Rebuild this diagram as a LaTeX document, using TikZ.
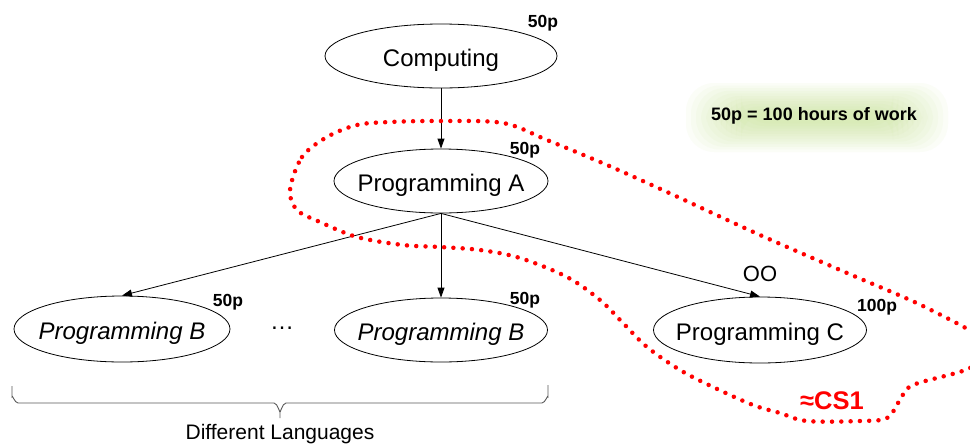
\documentclass[tikz,border=0pt]{standalone}
\usepackage{fontspec}
\setmainfont{Liberation Sans}
\usetikzlibrary{shapes.geometric,arrows.meta}
\definecolor{glowc}{RGB}{185,222,120}
\definecolor{bracec}{RGB}{90,90,90}
\newcommand{\ovaltext}[1]{\makebox[0pt]{\raisebox{-10pt}[0pt][0pt]{#1}}}
\begin{document}
\begin{tikzpicture}[x=1pt,y=-1pt,
  oval/.style={draw=black,line width=0.8pt,ellipse,minimum width=214pt,minimum height=65pt,inner sep=0pt,font=\fontsize{24}{28}\selectfont},
  pts/.style={font=\bfseries\fontsize{17.5}{20}\selectfont,inner sep=0pt},
  lbl/.style={font=\fontsize{22}{26}\selectfont,inner sep=0pt},
  arr/.style={-{Triangle[length=10pt,width=7pt]},line width=0.8pt},
  reddots/.style={red,line width=4.5pt,line cap=round,dash pattern=on 0pt off 9.3pt}]
\useasboundingbox (0,0) rectangle (970,445);
\fill[white] (0,0) rectangle (970,445);
\clip (0,0) rectangle (970,445);
% glow legend
\foreach \i in {0,...,11}
  \fill[glowc,opacity=0.055,rounded corners=28pt] (686+\i*5,83+\i*2.6) rectangle (948-\i*5,152-\i*2.6);
\node[font=\bfseries\fontsize{18}{22}\selectfont,inner sep=0pt] (legend) at (814,116) {50p = 100 hours of work};
% nodes
\node[oval,minimum width=232pt,minimum height=64pt] (comp) at (441,56) {\ovaltext{Computing}};
\node[oval,minimum height=64pt] (pa) at (441,181) {\ovaltext{Programming A}};
\node[oval,minimum width=216pt,minimum height=66pt] (b1) at (122,329) {\ovaltext{\itshape Programming B}};
\node[oval,minimum width=213pt,minimum height=64pt] (b2) at (441,330) {\ovaltext{\itshape Programming B}};
\node[oval,minimum width=213pt,minimum height=66pt] (pc) at (760,330) {\ovaltext{Programming C}};
\node[lbl,font=\fontsize{24}{28}\selectfont] (ell) at (282,328) {…};
% point labels
\node[pts] (p1) at (543,23) {50p};
\node[pts] (p2) at (525,150) {50p};
\node[pts] (p3) at (228,302) {50p};
\node[pts] (p4) at (525,300) {50p};
\node[pts] (p5) at (877,307) {100p};
\node[lbl] (oo) at (760,274) {OO};
% connectors
\draw[arr] (comp.south) -- (pa.north);
\draw[arr] (pa.south) -- (b1.north);
\draw[arr] (pa.south) -- (b2.north);
\draw[arr] (pa.south) -- (pc.north);
% brace
\draw[bracec,line width=0.9pt] (12,386) -- (12,397) to[out=90,in=180] (18,403) -- (274,403) to[out=0,in=-90] (280,411) -- (280,418);
\draw[bracec,line width=0.9pt] (280,411) to[out=-90,in=180] (286,403) -- (542,403) to[out=0,in=90] (548,397) -- (548,385);
\node[lbl,font=\fontsize{21}{25}\selectfont] (lang) at (280,434) {Different Languages};
% red dotted region
\draw[reddots] plot[smooth cycle,tension=0.55] coordinates {
 (290,190) (302,157) (327,137) (357,125) (390,122) (440,121) (503,123) (547,140)
 (607,165) (667,192) (760,235) (847,273) (927,308) (990,345) (970,368) (913,385)
 (900,400) (887,418) (860,421) (807,421) (780,413) (753,405) (713,387) (680,370)
 (647,347) (623,323) (600,300) (567,277) (520,258) (480,250) (440,247) (403,245)
 (357,237) (320,222) (297,210)};
\node[text=red,font=\bfseries\fontsize{25.5}{29}\selectfont,inner sep=0pt] (cs1) at (832,401) {≈CS1};
\end{tikzpicture}
\end{document}
